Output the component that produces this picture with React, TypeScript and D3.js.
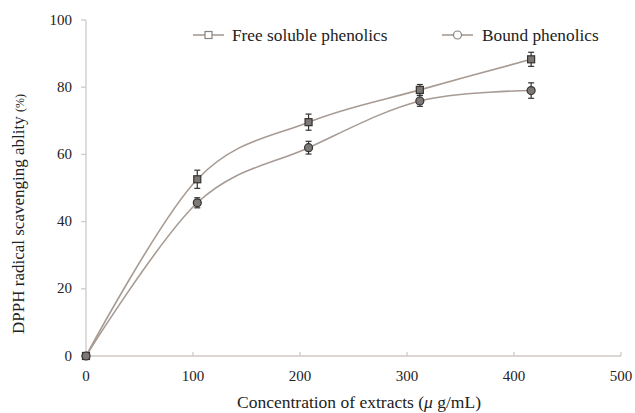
import React from "react";
import * as d3 from "d3";

const concentrations = [0, 104, 208, 312, 416];
const freeValues = [0, 52.6, 69.6, 79.2, 88.3];
const freeErrors = [0.5, 2.7, 2.4, 1.6, 2.1];
const boundValues = [0, 45.6, 62.0, 75.9, 79.0];
const boundErrors = [0.5, 1.5, 1.9, 1.6, 2.3];
const xTicks = [0, 100, 200, 300, 400, 500];
const yTicks = [0, 20, 40, 60, 80, 100];
const seriesNames = ["Free soluble phenolics", "Bound phenolics"];

const W = 635;
const H = 413;
const FONT = "'Liberation Serif', 'DejaVu Serif', serif";
const LINE = "#a79b94";
const AXIS = "#cfcac6";
const MARK = "#333";

export default function App() {
  const x = d3.scaleLinear().domain([0, 500]).range([86, 621]);
  const y = d3.scaleLinear().domain([0, 100]).range([356, 20]);
  const line = d3
    .line<[number, number]>()
    .x((d) => x(d[0]))
    .y((d) => y(d[1]))
    .curve(d3.curveCardinal.tension(0));

  const series = [
    { name: seriesNames[0], values: freeValues, errors: freeErrors, shape: "square" },
    { name: seriesNames[1], values: boundValues, errors: boundErrors, shape: "circle" },
  ];

  const marker = (shape: string, cx: number, cy: number, fill: string, stroke: string) =>
    shape === "square" ? (
      <rect x={cx - 3.5} y={cy - 3.5} width={7} height={7} fill={fill} stroke={stroke} strokeWidth={1.2} />
    ) : (
      <circle cx={cx} cy={cy} r={4} fill={fill} stroke={stroke} strokeWidth={1.2} />
    );

  return (
    <svg
      width={W}
      height={H}
      style={{ position: "absolute", left: 0, top: 0, background: "#fff" }}
      fontFamily={FONT}
    >
      {/* axes */}
      <line x1={x(0)} x2={x(0)} y1={y(100)} y2={y(0)} stroke={AXIS} strokeWidth={1.3} />
      <line x1={x(0)} x2={x(500)} y1={y(0)} y2={y(0)} stroke={AXIS} strokeWidth={1.3} />
      {yTicks.map((t) => (
        <g key={"y" + t}>
          <line x1={x(0) - 5} x2={x(0)} y1={y(t)} y2={y(t)} stroke={AXIS} strokeWidth={1.3} />
          <text x={72} y={y(t)} dy="0.3em" textAnchor="end" fontSize={15} fill="#222">
            {t}
          </text>
        </g>
      ))}
      {xTicks.map((t) => (
        <g key={"x" + t}>
          <line x1={x(t)} x2={x(t)} y1={y(0) - 4} y2={y(0)} stroke={AXIS} strokeWidth={1.3} />
          <text x={x(t)} y={381} textAnchor="middle" fontSize={15} fill="#222">
            {t}
          </text>
        </g>
      ))}

      {/* axis titles */}
      <text x={359} y={408} textAnchor="middle" fontSize={17.5} fill="#222">
        Concentration of extracts (<tspan fontStyle="italic">μ</tspan> g/mL)
      </text>
      <text transform="translate(24,214) rotate(-90)" textAnchor="middle" fontSize={17} fill="#222">
        DPPH radical scavenging ablity <tspan fontSize={12}>(%)</tspan>
      </text>

      {/* lines */}
      {series.map((s) => (
        <path
          key={s.name}
          d={line(concentrations.map((c, i) => [c, s.values[i]] as [number, number])) || ""}
          fill="none"
          stroke={LINE}
          strokeWidth={1.6}
        />
      ))}

      {/* error bars and markers */}
      {series.map((s) => (
        <g key={s.name + "m"}>
          {concentrations.map((c, i) => {
            const cx = x(c);
            const y1 = y(s.values[i] + s.errors[i]);
            const y2 = y(s.values[i] - s.errors[i]);
            return (
              <g key={i}>
                <line x1={cx} x2={cx} y1={y1} y2={y2} stroke={MARK} strokeWidth={1.2} />
                <line x1={cx - 3} x2={cx + 3} y1={y1} y2={y1} stroke={MARK} strokeWidth={1.2} />
                <line x1={cx - 3} x2={cx + 3} y1={y2} y2={y2} stroke={MARK} strokeWidth={1.2} />
                {marker(s.shape, cx, y(s.values[i]), "#7d7875", MARK)}
              </g>
            );
          })}
        </g>
      ))}

      {/* legend */}
      <g>
        <line x1={193} x2={224} y1={35} y2={35} stroke={LINE} strokeWidth={1.6} />
        {marker("square", 208.5, 35, "#fff", "#8a8280")}
        <text x={232} y={35} dy="0.33em" fontSize={17.3} fill="#222">
          {seriesNames[0]}
        </text>
        <line x1={442} x2={473} y1={35} y2={35} stroke={LINE} strokeWidth={1.6} />
        {marker("circle", 457.5, 35, "#fff", "#8a8280")}
        <text x={482} y={35} dy="0.33em" fontSize={17.3} fill="#222">
          {seriesNames[1]}
        </text>
      </g>
    </svg>
  );
}
